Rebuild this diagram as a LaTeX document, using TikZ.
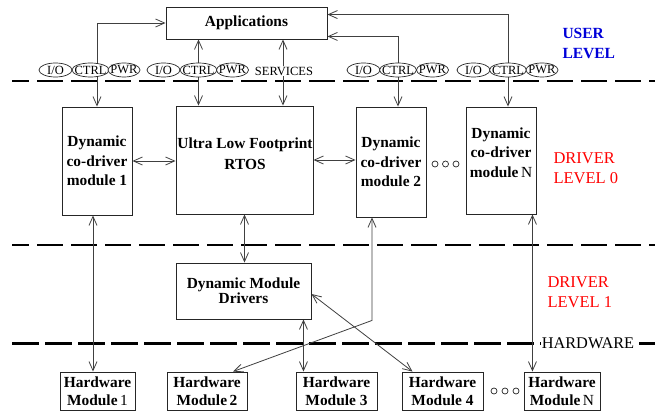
\documentclass[tikz,border=0pt]{standalone}
\usepackage{fontspec}
\setmainfont{Liberation Serif}
\usetikzlibrary{arrows.meta,shapes.geometric,backgrounds,calc}

\begin{document}
\begin{tikzpicture}[x=1pt,y=-1pt,
  >={Straight Barb[length=9pt,width=8pt]},
  box/.style={draw=black!85, line width=0.9pt, fill=white, inner sep=0pt,
    align=center, font=\fontsize{15.4}{19.5}\selectfont\bfseries},
  hwbox/.style={box, minimum height=38pt, font=\fontsize{15.4}{18}\selectfont\bfseries},
  tag/.style={ellipse, draw=black!85, line width=0.7pt, fill=white,
    minimum height=14pt, inner sep=0pt, font=\fontsize{12.5}{12}\selectfont},
  dots/.style={circle, draw=black!85, line width=0.7pt, fill=white,
    minimum size=6pt, inner sep=0pt},
  link/.style={draw=black!75, line width=0.8pt},
  layer/.style={line width=2pt, dash pattern=on 26pt off 8pt},
  userlbl/.style={text=blue!85!black, align=left, anchor=west,
    font=\fontsize{15.5}{20}\selectfont\bfseries},
  drvlbl/.style={text=red, align=left, anchor=west,
    font=\fontsize{16.5}{20}\selectfont},
]
\useasboundingbox (0,0) rectangle (655,414);

% ---------- top level ----------
\node[box, minimum width=161pt, minimum height=32pt] (apps) at (246.5,23) {Applications};

% interface tags
\node[tag, minimum width=33pt] (io1) at (55.5,70) {\makebox[0pt]{I/O}};
\node[tag, minimum width=37pt] (c1)  at (90.5,70) {\makebox[0pt]{CTRL}};
\node[tag, minimum width=32pt] (p1)  at (124,70)  {\makebox[0pt]{PWR}};
\node[tag, minimum width=33pt] (io2) at (163.5,70) {\makebox[0pt]{I/O}};
\node[tag, minimum width=37pt] (c2)  at (198.5,70) {\makebox[0pt]{CTRL}};
\node[tag, minimum width=32pt] (p2)  at (232.5,70) {\makebox[0pt]{PWR}};
\node[tag, minimum width=33pt] (io3) at (363.5,70) {\makebox[0pt]{I/O}};
\node[tag, minimum width=37pt] (c3)  at (398,70)   {\makebox[0pt]{CTRL}};
\node[tag, minimum width=32pt] (p3)  at (432.5,70) {\makebox[0pt]{PWR}};
\node[tag, minimum width=33pt] (io4) at (473.5,70) {\makebox[0pt]{I/O}};
\node[tag, minimum width=37pt] (c4)  at (508,70)   {\makebox[0pt]{CTRL}};
\node[tag, minimum width=32pt] (p4)  at (542,70)   {\makebox[0pt]{PWR}};
\node[fill=white, inner sep=1pt, font=\fontsize{12.5}{12}\selectfont] (serv) at (284,71) {SERVICES};

\node[userlbl] (user) at (559,43) {USER\\LEVEL};

% ---------- driver level 0 ----------
\node[box, minimum width=70pt, minimum height=108pt] (m1) at (97,161)
  {Dynamic\\co-driver\\module 1};
\node[box, minimum width=137pt, minimum height=108pt] (rtos) at (244.5,160) {};
\node[align=center, font=\fontsize{15.4}{21}\selectfont\bfseries] (rtostxt) at (245,154)
  {Ultra Low Footprint\\RTOS};
\node[box, minimum width=70pt, minimum height=110pt] (m2) at (391,162)
  {Dynamic\\co-driver\\module 2};
\node[box, minimum width=70pt, minimum height=107pt] (mN) at (501,160.5)
  {Dynamic\\co-driver\\module{\mdseries\,N}\\[-3pt]};
\node[dots] (d1) at (435,164) {};
\node[dots] (d2) at (445.5,164) {};
\node[dots] (d3) at (456,164) {};

\node[drvlbl] (lvl0) at (550,168) {DRIVER\\LEVEL 0};

% ---------- driver level 1 ----------
\node[box, minimum width=135pt, minimum height=56pt,
  font=\fontsize{15.4}{14}\selectfont\bfseries] (dmd) at (243.5,291)
  {Dynamic Module\\Drivers};
\node[drvlbl] (lvl1) at (544,292.5) {DRIVER\\LEVEL 1};

% ---------- hardware ----------
\node[hwbox, minimum width=75pt] (hw1) at (97.5,391) {Hardware\\Module{\mdseries\,1}};
\node[hwbox, minimum width=80pt] (hw2) at (207,391)   {Hardware\\Module\,2};
\node[hwbox, minimum width=81pt] (hw3) at (336.5,391) {Hardware\\Module 3};
\node[hwbox, minimum width=81pt] (hw4) at (442.5,391) {Hardware\\Module 4};
\node[hwbox, minimum width=76pt] (hwN) at (562,391)   {Hardware\\Module{\mdseries\,N}};
\node[dots] (e1) at (494,391) {};
\node[dots] (e2) at (505,391) {};
\node[dots] (e3) at (516,391) {};

\node[fill=white, inner sep=1pt, font=\fontsize{16.3}{16}\selectfont] (hwlbl) at (588,343) {HARDWARE};

\begin{pgfonlayer}{background}
  \fill[white] (0,0) rectangle (655,414);
  % level separators
  \coordinate (l1a) at (12,81.5);  \coordinate (l1b) at (655,81.5);
  \coordinate (l2a) at (12,244.5); \coordinate (l2b) at (655,244.5);
  \coordinate (l3a) at (12,343);   \coordinate (l3b) at (655,343);
  \draw[layer, dash phase=9pt] (l1a) -- (l1b);
  \draw[layer, dash phase=9pt] (l2a) -- (l2b);
  \draw[layer, line width=3pt, dash pattern=on 27pt off 6pt] (l3a) -- (l3b);

  % user level links
  \draw[link, <->] (apps.west) -| (m1.north);
  \draw[link, <->] (apps.south -| c2) -- (rtos.north -| c2);
  \draw[link, <->] ([xshift=-1pt]apps.south -| serv) -- ([xshift=-1pt]rtos.north -| serv);
  \draw[link, <->] ([yshift=3pt]apps.south east) -| (m2.north -| c3);
  \draw[link, <->] ([yshift=-8pt]apps.north east) -| (mN.north -| c4);

  % driver level links
  \draw[link, <->] (m1.east) -- (m1.east -| rtos.west);
  \draw[link, <->] (rtos.east) -- (rtos.east -| m2.west);
  \draw[link, <->] (rtos.south) -- (rtos.south |- dmd.north);

  % hardware links
  \draw[link, <->] ([xshift=-4pt]m1.south) -- ([xshift=-4pt]m1.south |- hw1.north);
  \draw[link, <->] ([xshift=-8pt]dmd.south east) -- ([xshift=-8pt]dmd.south east |- hw3.north);
  \draw[link, <->] ([xshift=-19pt]m2.south) -- ++(0,103) -- ([xshift=26pt]hw2.north);
  \draw[link, <->] ([yshift=-3pt]dmd.east) -- ([xshift=-30pt]hw4.north);
  \draw[link, <->] ([xshift=-4pt]mN.south east) -- ([xshift=-4pt]mN.south east |- hwN.north);
\end{pgfonlayer}
\end{tikzpicture}
\end{document}
